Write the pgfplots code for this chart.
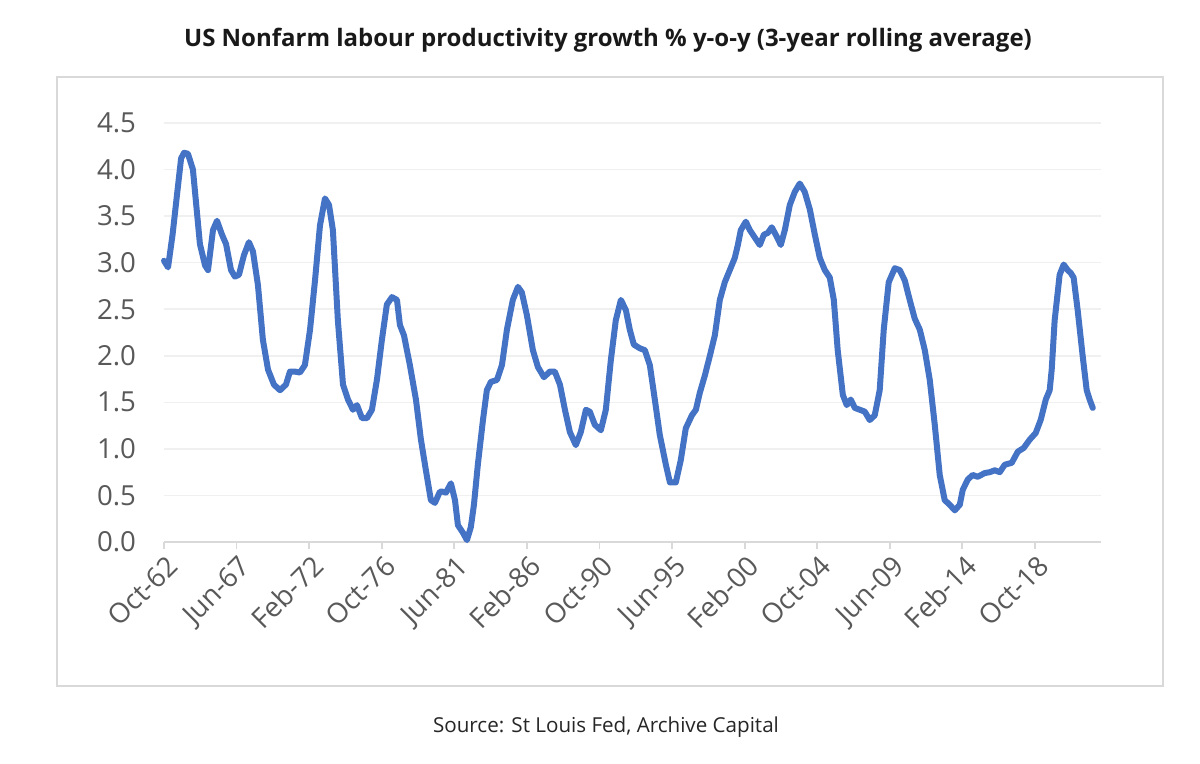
\documentclass[border=0pt]{standalone}
\usepackage{fontspec}
\setmainfont{Open Sans}
\usepackage{pgfplots}
\pgfplotsset{compat=1.18}
\definecolor{lineblue}{HTML}{4472C4}
\definecolor{ticktext}{HTML}{595959}
\definecolor{axisgray}{HTML}{D9D9D9}
\definecolor{gridgray}{HTML}{F0F0F0}
\begin{document}
\begin{tikzpicture}
\path[fill=white] (0pt,0pt) rectangle (600pt,382pt);
\draw[axisgray, line width=0.9pt] (28.5pt,39pt) rectangle (581.5pt,343.5pt);
\node[font=\bfseries\fontsize{12}{14}\selectfont, text=black!90] at (304pt,362pt) {US Nonfarm labour productivity growth \% y-o-y (3-year rolling average)};
\node[font=\fontsize{10.3}{12}\selectfont, text=black!85] at (303pt,18.5pt) {Source: St Louis Fed, Archive Capital};
\begin{axis}[
  at={(82pt,111pt)}, anchor=south west,
  scale only axis, width=468.5pt, height=209.5pt,
  xmin=1962.75, xmax=2023.0, ymin=0, ymax=4.5,
  axis x line*=bottom, axis y line*=left,
  x axis line style={axisgray, line width=0.9pt, -},
  y axis line style={draw=none},
  xtick={1962.75,1967.4167,1972.0833,1976.75,1981.4167,1986.0833,1990.75,1995.4167,2000.0833,2004.75,2009.4167,2014.0833,2018.75},
  xticklabels={Oct-62,Jun-67,Feb-72,Oct-76,Jun-81,Feb-86,Oct-90,Jun-95,Feb-00,Oct-04,Jun-09,Feb-14,Oct-18},
  xtick style={axisgray, line width=0.9pt},
  major tick length=3.5pt,
  tick align=outside,
  xticklabel style={rotate=45, anchor=north east, font=\fontsize{13.8}{15}\selectfont, text=ticktext, inner sep=1pt, yshift=-1pt},
  ytick={0,0.5,...,4.5},
  ymajorgrids, grid style={gridgray, line width=0.8pt},
  ytick style={draw=none},
  yticklabel style={font=\fontsize{13.8}{15}\selectfont, text=ticktext, xshift=-7pt, /pgf/number format/fixed, /pgf/number format/fixed zerofill, /pgf/number format/precision=1, /pgf/number format/assume math mode=true},
  clip=false,
]
\addplot[lineblue, line width=3pt, line join=round, line cap=round] coordinates {
(1962.75,3.02)(1963.01,2.95)(1963.30,3.30)(1963.60,3.75)(1963.85,4.12)(1964.04,4.18)(1964.29,4.17)(1964.61,4.00)
(1965.06,3.20)(1965.39,2.97)(1965.58,2.92)(1965.90,3.35)(1966.16,3.45)(1966.48,3.30)(1966.74,3.20)
(1967.06,2.92)(1967.31,2.85)(1967.57,2.87)(1967.89,3.08)(1968.21,3.22)(1968.47,3.12)(1968.79,2.76)
(1969.11,2.17)(1969.44,1.85)(1969.82,1.69)(1970.21,1.63)(1970.59,1.69)(1970.85,1.83)(1971.17,1.83)
(1971.49,1.82)(1971.81,1.90)(1972.14,2.28)(1972.46,2.81)(1972.78,3.40)(1973.10,3.69)(1973.36,3.62)
(1973.61,3.35)(1973.93,2.38)(1974.26,1.69)(1974.58,1.53)(1974.90,1.42)(1975.16,1.47)(1975.48,1.33)
(1975.80,1.33)(1976.12,1.42)(1976.44,1.74)(1976.76,2.17)(1977.08,2.55)(1977.41,2.63)(1977.73,2.60)
(1977.92,2.33)(1978.18,2.22)(1978.56,1.90)(1978.95,1.53)(1979.27,1.10)(1979.59,0.77)(1979.91,0.45)
(1980.17,0.42)(1980.49,0.54)(1980.68,0.54)(1980.88,0.53)(1981.20,0.63)(1981.46,0.45)(1981.65,0.18)
(1981.97,0.10)(1982.23,0.02)(1982.48,0.16)(1982.68,0.40)(1982.93,0.83)(1983.26,1.31)(1983.51,1.63)
(1983.77,1.72)(1984.16,1.74)(1984.48,1.90)(1984.80,2.28)(1985.18,2.60)(1985.51,2.74)(1985.76,2.68)
(1986.08,2.44)(1986.47,2.06)(1986.79,1.88)(1987.18,1.77)(1987.56,1.83)(1987.88,1.83)(1988.21,1.69)
(1988.53,1.42)(1988.85,1.18)(1989.23,1.04)(1989.55,1.18)(1989.88,1.42)(1990.13,1.40)(1990.45,1.26)
(1990.84,1.20)(1991.16,1.42)(1991.48,1.95)(1991.80,2.38)(1992.13,2.60)(1992.45,2.49)(1992.70,2.28)
(1992.96,2.12)(1993.35,2.08)(1993.67,2.06)(1993.99,1.90)(1994.31,1.53)(1994.63,1.15)(1995.02,0.83)
(1995.28,0.64)(1995.66,0.64)(1995.98,0.88)(1996.30,1.22)(1996.69,1.36)(1996.95,1.42)(1997.20,1.60)
(1997.53,1.79)(1997.85,2.00)(1998.17,2.22)(1998.49,2.60)(1998.81,2.79)(1999.13,2.92)(1999.45,3.05)
(1999.65,3.19)(1999.84,3.35)(2000.16,3.44)(2000.42,3.35)(2000.74,3.27)(2001.06,3.19)(2001.32,3.30)
(2001.58,3.32)(2001.83,3.38)(2002.15,3.28)(2002.41,3.19)(2002.67,3.35)(2002.99,3.62)(2003.31,3.76)
(2003.63,3.85)(2003.95,3.76)(2004.28,3.57)(2004.60,3.30)(2004.92,3.05)(2005.24,2.92)(2005.56,2.84)
(2005.82,2.60)(2006.07,2.06)(2006.40,1.58)(2006.65,1.47)(2006.91,1.53)(2007.17,1.44)(2007.49,1.42)
(2007.81,1.40)(2008.13,1.31)(2008.45,1.36)(2008.77,1.63)(2009.03,2.28)(2009.35,2.79)(2009.74,2.94)
(2010.06,2.92)(2010.38,2.81)(2010.70,2.60)(2011.02,2.40)(2011.35,2.28)(2011.67,2.06)(2011.99,1.74)
(2012.31,1.26)(2012.63,0.72)(2012.95,0.45)(2013.27,0.40)(2013.60,0.34)(2013.92,0.40)(2014.11,0.56)
(2014.43,0.67)(2014.75,0.72)(2015.07,0.70)(2015.52,0.74)(2015.85,0.75)(2016.17,0.77)(2016.49,0.75)
(2016.81,0.83)(2017.26,0.85)(2017.65,0.97)(2018.03,1.01)(2018.42,1.10)(2018.80,1.17)(2019.12,1.31)
(2019.45,1.53)(2019.70,1.63)(2019.83,1.85)(2020.02,2.38)(2020.34,2.87)(2020.60,2.98)(2020.86,2.92)
(2021.05,2.89)(2021.24,2.84)(2021.50,2.49)(2021.82,2.00)(2022.08,1.63)(2022.27,1.53)(2022.47,1.44)
};
\end{axis}
\end{tikzpicture}
\end{document}
